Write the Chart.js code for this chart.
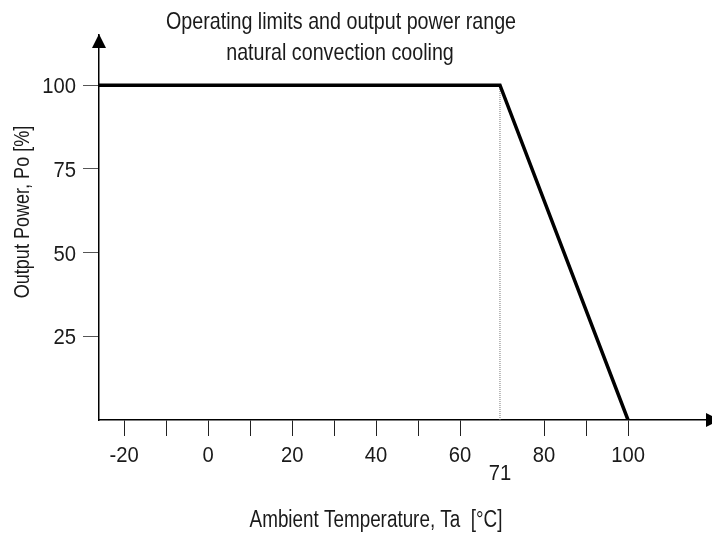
<!DOCTYPE html>
<html>
<head>
<meta charset="utf-8">
<script src="https://cdn.jsdelivr.net/npm/chart.js@4/dist/chart.umd.min.js"></script>
<style>
  html, body { margin: 0; padding: 0; background: #fff; }
  #wrap { width: 712px; height: 536px; position: relative; }
</style>
</head>
<body>
<div id="wrap"><canvas id="chart"></canvas></div>
<script>
// --- Data ---
const tempPoints = [-26, 69.5, 100];   // Ambient temperature, °C
const powerPoints = [100, 100, 0];     // Output power, %
const kneeTemp = 69.5;
const kneeLabel = '71';
const xTickValues = [-20, -10, 0, 10, 20, 30, 40, 50, 60, 80, 90, 100];
const yTickValues = [25, 50, 75, 100];
const titleLines = ['Operating limits and output power range', 'natural convection cooling'];
const xTitle = 'Ambient Temperature, Ta  [°C]';
const yTitle = 'Output Power, Po [%]';

// no narrow font installed, so Liberation Sans gets squeezed sideways
const FONT = "'Liberation Sans', Arial, sans-serif";
const TEXT = '#1a1a1a';

function drawText(ctx, text, x, y, size, sx, align) {
    ctx.save();
    ctx.translate(x, y);
    ctx.scale(sx, 1);
    ctx.font = size + 'px ' + FONT;
    ctx.textAlign = align;
    ctx.textBaseline = 'alphabetic';
    ctx.fillText(text, 0, 0);
    ctx.restore();
}

// --- Arrows, labels and titles ---
const decorPlugin = {
    id: 'decor',
    afterDraw(chart) {
        const ctx = chart.ctx;
        const area = chart.chartArea;
        const xs = chart.scales.x;
        const ys = chart.scales.y;
        ctx.save();
        ctx.fillStyle = '#000';

        // y arrow
        ctx.beginPath();
        ctx.moveTo(area.left, area.top - 1);
        ctx.lineTo(area.left - 7, area.top + 13);
        ctx.lineTo(area.left + 7, area.top + 13);
        ctx.closePath();
        ctx.fill();

        // x arrow (runs off the right edge like the original)
        ctx.beginPath();
        ctx.moveTo(area.right + 8, area.bottom);
        ctx.lineTo(area.right - 6, area.bottom - 7);
        ctx.lineTo(area.right - 6, area.bottom + 7);
        ctx.closePath();
        ctx.fill();

        ctx.fillStyle = TEXT;

        // tick labels
        xs.ticks.forEach(t => {
            if (t.label !== '') drawText(ctx, String(t.label), xs.getPixelForValue(t.value), area.bottom + 42, 22, 0.92, 'center');
        });
        ys.ticks.forEach(t => {
            drawText(ctx, String(t.label), area.left - 23, ys.getPixelForValue(t.value) + 8, 22, 0.92, 'right');
        });
        drawText(ctx, kneeLabel, xs.getPixelForValue(kneeTemp), area.bottom + 60, 22, 0.92, 'center');

        // titles
        drawText(ctx, titleLines[0], 341, 29, 24, 0.82, 'center');
        drawText(ctx, titleLines[1], 340, 60, 24, 0.82, 'center');
        drawText(ctx, xTitle, 376, 527, 23, 0.82, 'center');

        ctx.translate(29, 212);
        ctx.rotate(-Math.PI / 2);
        drawText(ctx, yTitle, 0, 0, 22, 0.82, 'center');
        ctx.restore();
    }
};

const ctx = document.getElementById('chart').getContext('2d');
new Chart(ctx, {
    type: 'scatter',
    data: {
        datasets: [
            {
                data: tempPoints.map((t, i) => ({ x: t, y: powerPoints[i] })),
                showLine: true,
                borderColor: '#000',
                borderWidth: 3.5,
                pointRadius: 0,
                tension: 0
            },
            {
                data: [{ x: kneeTemp, y: 0 }, { x: kneeTemp, y: powerPoints[1] }],
                showLine: true,
                borderColor: '#777',
                borderWidth: 1,
                borderDash: [1, 1],
                pointRadius: 0
            }
        ]
    },
    options: {
        responsive: true, maintainAspectRatio: false,
        animation: false,
        layout: { padding: { top: 35, right: 0, left: 0, bottom: 0 } },
        plugins: {
            legend: { display: false },
            tooltip: { enabled: false }
        },
        scales: {
            x: {
                type: 'linear',
                min: -26, max: 120,
                afterBuildTicks: (s) => { s.ticks = xTickValues.map(v => ({ value: v })); },
                afterFit: (s) => { s.height = 116; },
                ticks: {
                    color: 'rgba(0,0,0,0)',
                    maxRotation: 0,
                    autoSkip: false,
                    callback: (v) => (v % 20 === 0 ? v : '')
                },
                grid: { drawOnChartArea: false, drawTicks: true, tickLength: 16, color: '#222', lineWidth: 1 },
                border: { display: true, color: '#000', width: 1.5 }
            },
            y: {
                type: 'linear',
                min: 0, max: 115,
                afterBuildTicks: (s) => { s.ticks = yTickValues.map(v => ({ value: v })); },
                afterFit: (s) => { s.width = 99; },
                ticks: { color: 'rgba(0,0,0,0)' },
                grid: { drawOnChartArea: false, drawTicks: true, tickLength: 16, color: '#555', lineWidth: 1 },
                border: { display: true, color: '#000', width: 1.5 }
            }
        }
    },
    plugins: [decorPlugin]
});
</script>
</body>
</html>
